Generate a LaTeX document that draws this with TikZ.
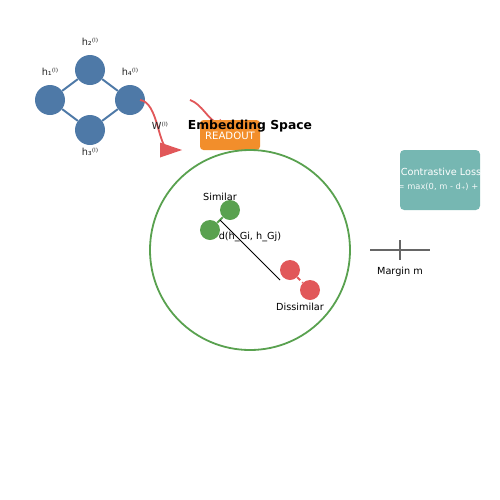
\documentclass[tikz,border=0pt]{standalone}
\usepackage{fontspec}
\setmainfont{DejaVu Sans}
\usetikzlibrary{arrows.meta}
\definecolor{gblue}{HTML}{4E79A7}
\definecolor{gorange}{HTML}{F28E2B}
\definecolor{ggreen}{HTML}{59A14F}
\definecolor{gred}{HTML}{E15759}
\definecolor{gteal}{HTML}{76B7B2}
\definecolor{ggray}{HTML}{666666}
\tikzset{
  gnode/.style={circle, fill=gblue, inner sep=0pt, minimum size=21.6pt},
  gedge/.style={gblue, line width=1.4pt},
  lbl/.style={font=\fontsize{7}{8}\selectfont, text=black, inner sep=0pt},
  slbl/.style={font=\fontsize{7}{8}\selectfont, text=black!85, inner sep=0pt},
  dotg/.style={circle, fill=ggreen, inner sep=0pt, minimum size=14.4pt},
  dotr/.style={circle, fill=gred, inner sep=0pt, minimum size=14.4pt},
  redc/.style={gred, line width=1.3pt},
  boxo/.style={fill=gorange, rounded corners=2.5pt, draw=none},
}
\begin{document}
\begin{tikzpicture}[x=0.72pt, y=-0.72pt]
\useasboundingbox (0,0) rectangle (500,500);
% graph
\node[gnode] (h1) at (50,100) {};
\node[gnode] (h2) at (90,70) {};
\node[gnode] (h3) at (90,130) {};
\node[gnode] (h4) at (130,100) {};
\draw[gedge] (h1) -- (h2);
\draw[gedge] (h2) -- (h4);
\draw[gedge] (h4) -- (h3);
\draw[gedge] (h3) -- (h1);
\node[slbl] (l1) at (50,72) {h₁⁽ˡ⁾};
\node[slbl] (l2) at (90,42) {h₂⁽ˡ⁾};
\node[slbl] (l4) at (130,72) {h₄⁽ˡ⁾};
\node[slbl] (l3) at (90,152) {h₃⁽ˡ⁾};
% message passing arrow
\coordinate (a0) at (140,100);
\coordinate (a1) at (168,149);
\draw[redc] (a0) .. controls (158,102) and (158,146) .. (a1);
\fill[gred] (160,142.5) -- (182,150) -- (160,157.5) -- cycle;
\node[slbl] (w) at (160,126) {W⁽ˡ⁾};
% readout arrow
\coordinate (b0) at (190,100);
\coordinate (b1) at (230,128);
\draw[redc, -{Triangle[length=9pt,width=7pt]}] (b0) .. controls (202,104) and (208,120) .. (b1);
% readout box
\path[boxo] (200,120) rectangle (260,150);
\node[font=\fontsize{7.3}{8}\selectfont, text=white, inner sep=0pt] (ro) at (230,136) {READOUT};
\node[font=\bfseries\fontsize{8.9}{9}\selectfont, inner sep=0pt] (es) at (250,126) {Embedding Space};
% embedding circle
\draw[ggreen, line width=1.3pt] (250,250) circle[radius=100];
% similar pair
\node[dotg] (g1) at (230,210) {};
\node[dotg] (g2) at (210,230) {};
\draw[ggreen, line width=1.3pt] (g1) -- (g2);
\node[lbl] (sim) at (220,197) {Similar};
% distance
\coordinate (d0) at (220,220);
\coordinate (d1) at (280,280);
\draw[black, line width=0.6pt] (d0) -- (d1);
\node[lbl] (dl) at (250,237) {d(h\_Gi, h\_Gj)};
% dissimilar pair
\node[dotr] (r1) at (290,270) {};
\node[dotr] (r2) at (310,290) {};
\draw[gred, line width=1.3pt, dash pattern=on 3pt off 2pt] (r1) -- (r2);
\node[lbl] (dis) at (300,307) {Dissimilar};
% margin
\coordinate (m0) at (370,250);
\coordinate (m1) at (430,250);
\coordinate (m2) at (400,240);
\coordinate (m3) at (400,260);
\draw[ggray, line width=1pt] (m0) -- (m1);
\draw[ggray, line width=1pt] (m2) -- (m3);
\node[lbl] (ml) at (400,272) {Margin m};
% loss box
\path[fill=gteal, rounded corners=3pt] (400,150) rectangle (480,210);
\begin{scope}
\clip (400,150) rectangle (480,210);
\node[font=\fontsize{7}{8}\selectfont, text=white, inner sep=0pt] (cl) at (441,172) {Contrastive Loss};
\node[font=\fontsize{6}{7}\selectfont, text=white!92!gteal, inner sep=0pt] (cf) at (438,187) {= max(0, m - d₊) +};
\end{scope}
\end{tikzpicture}
\end{document}
